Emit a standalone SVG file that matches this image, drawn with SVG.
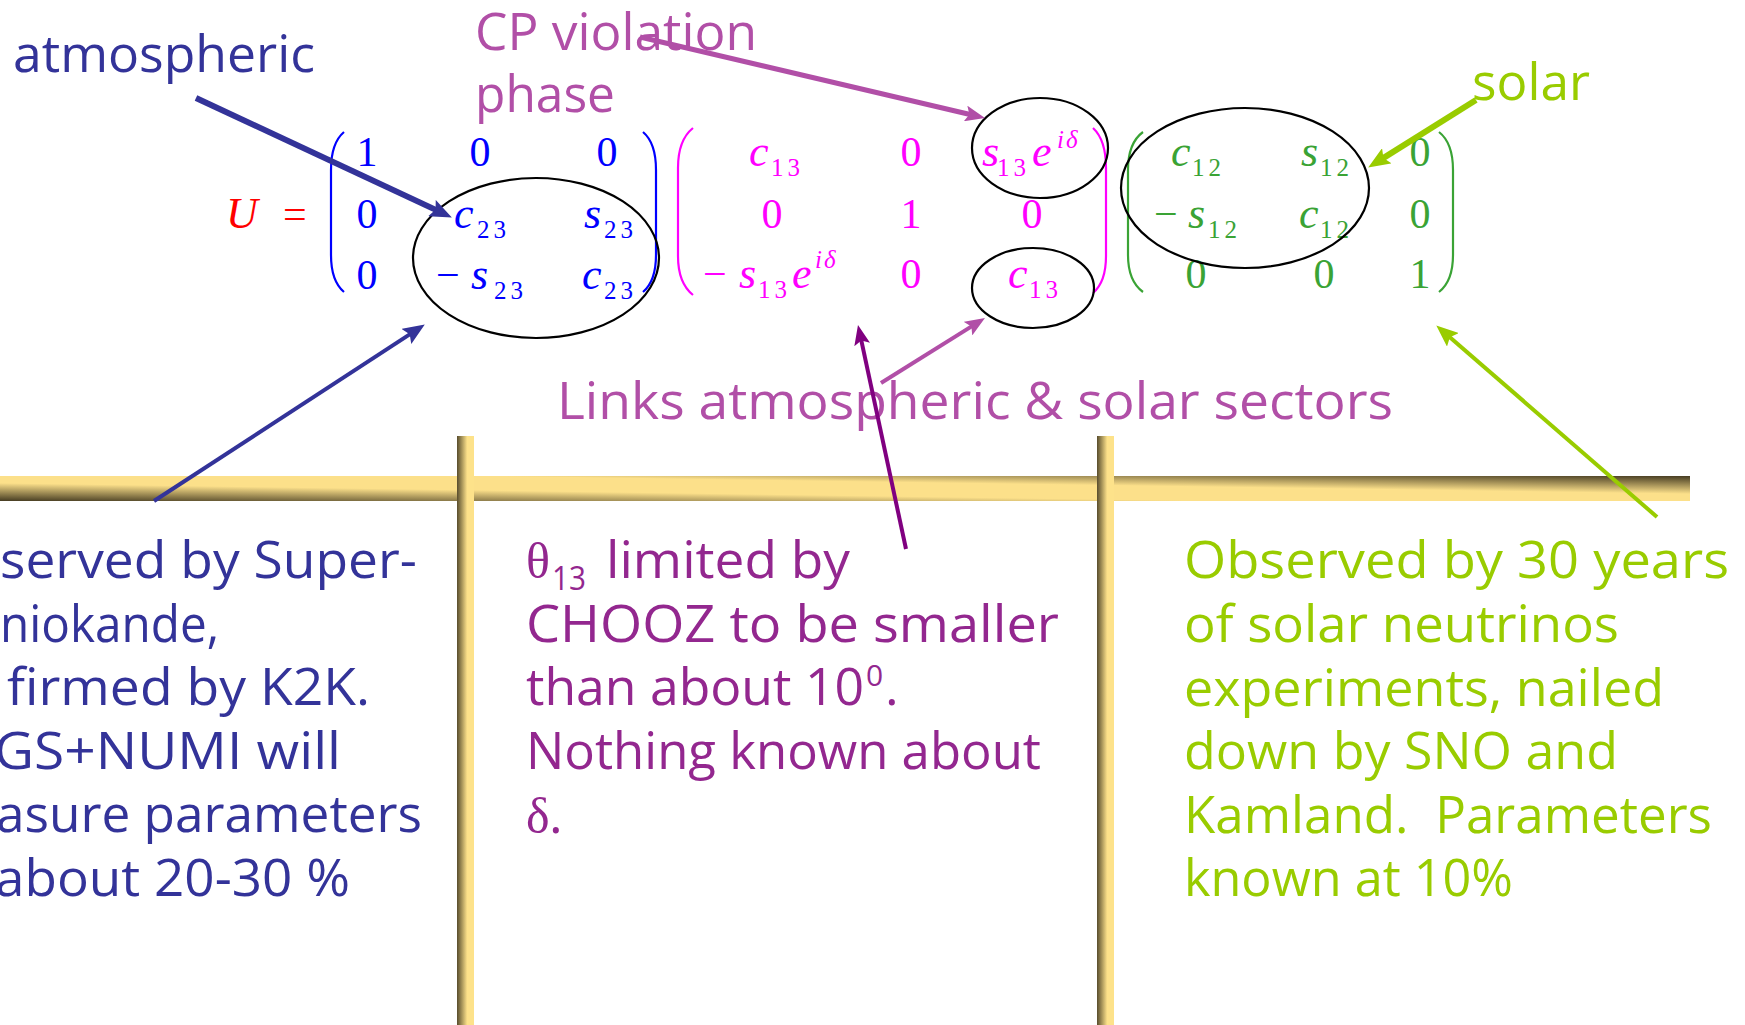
<svg xmlns="http://www.w3.org/2000/svg" width="1745" height="1025" viewBox="0 0 1745 1025">
<defs>
<style>
.sans{font-family:"Open Sans","Liberation Sans",sans-serif;font-size:52px}
.serif{font-family:"Liberation Serif","DejaVu Serif",serif}
.m{font-family:"Liberation Serif","DejaVu Serif",serif;font-size:42px}
.mi{font-family:"Liberation Serif","DejaVu Serif",serif;font-size:44px;font-style:italic}
.sub{font-family:"Liberation Serif","DejaVu Serif",serif;font-size:25px;letter-spacing:4px}
.sup{font-family:"Liberation Serif","DejaVu Serif",serif;font-size:25px;font-style:italic;letter-spacing:2px}
.mid{text-anchor:middle}
.paren{fill:none;stroke-width:2.2}
.ell{fill:none;stroke:#000;stroke-width:2.2}
.navy{fill:#333399}
.orchid{fill:#B14FA7}
.plum{fill:#93278F}
.lime{fill:#99CC00}
.blue{fill:#0000FF}
.mag{fill:#FF00FF}
.grn{fill:#3AA335}
.arrow{fill:none;stroke-linecap:butt}
</style>
<linearGradient id="gH" x1="0" y1="1" x2="1" y2="0">
<stop offset="0" stop-color="#463C22"/>
<stop offset="0.36" stop-color="#FCE08A"/>
<stop offset="0.64" stop-color="#FCE08A"/>
<stop offset="1" stop-color="#463C22"/>
</linearGradient>
<linearGradient id="gV" x1="0" y1="0" x2="1" y2="0">
<stop offset="0" stop-color="#584C2D"/>
<stop offset="0.2" stop-color="#8E7E4C"/>
<stop offset="0.6" stop-color="#FDE28A"/>
<stop offset="1" stop-color="#FDE28A"/>
</linearGradient>
<marker id="ahNavy" markerUnits="userSpaceOnUse" markerWidth="22" markerHeight="18" refX="9" refY="9" orient="auto"><path d="M0,0 L22,9 L0,18 L4,9 z" fill="#333399"/></marker>
<marker id="ahOrchid" markerUnits="userSpaceOnUse" markerWidth="20" markerHeight="16" refX="8" refY="8" orient="auto"><path d="M0,0 L20,8 L0,16 L4,8 z" fill="#B14FA7"/></marker>
<marker id="ahPurple" markerUnits="userSpaceOnUse" markerWidth="20" markerHeight="16" refX="8" refY="8" orient="auto"><path d="M0,0 L20,8 L0,16 L4,8 z" fill="#800080"/></marker>
<marker id="ahLime" markerUnits="userSpaceOnUse" markerWidth="22" markerHeight="18" refX="9" refY="9" orient="auto"><path d="M0,0 L22,9 L0,18 L4,9 z" fill="#99CC00"/></marker>
</defs>
<rect width="1745" height="1025" fill="#fff"/>

<g id="bars">
<rect x="0" y="476" width="1690" height="25" fill="url(#gH)"/>
<rect x="457" y="436" width="17" height="589" fill="url(#gV)"/>
<rect x="1097" y="436" width="17" height="589" fill="url(#gV)"/>
</g>

<g id="label-atmospheric"><text class="sans navy" x="13" y="72" textLength="302" lengthAdjust="spacingAndGlyphs">atmospheric</text></g>
<g id="label-cp"><text class="sans orchid" x="475" y="50" textLength="282" lengthAdjust="spacingAndGlyphs">CP violation</text><text class="sans orchid" x="475" y="112" textLength="140" lengthAdjust="spacingAndGlyphs">phase</text></g>
<g id="label-solar"><text class="sans lime" x="1472" y="100" textLength="118" lengthAdjust="spacingAndGlyphs">solar</text></g>
<g id="label-links"><text class="sans orchid" x="557" y="419" textLength="836" lengthAdjust="spacingAndGlyphs">Links atmospheric &amp; solar sectors</text></g>

<g id="matrix-U">
<text class="mi" x="226" y="228" fill="#FF0000">U</text>
<text class="m" x="283" y="228" fill="#FF0000">=</text>
</g>

<g id="matrix-23" class="blue">
<path class="paren" stroke="#0000FF" d="M344 132 Q331 143 331 170 L331 255 Q331 281 344 292"/>
<path class="paren" stroke="#0000FF" d="M643 132 Q656 143 656 170 L656 255 Q656 281 643 292"/>
<text class="m mid" x="367" y="166">1</text>
<text class="m mid" x="480" y="166">0</text>
<text class="m mid" x="607" y="166">0</text>
<text class="m mid" x="367" y="228">0</text>
<text class="mi" x="454" y="228">c</text><text class="sub" x="477" y="238">23</text>
<text class="mi" x="584" y="228">s</text><text class="sub" x="604" y="238">23</text>
<text class="m" x="436" y="289">−</text>
<text class="m mid" x="367" y="289">0</text>
<text class="mi" x="471" y="289">s</text><text class="sub" x="494" y="299">23</text>
<text class="mi" x="582" y="289">c</text><text class="sub" x="604" y="299">23</text>
</g>

<g id="matrix-13" class="mag">
<path class="paren" stroke="#FF00FF" d="M693 128 Q678 140 678 168 L678 256 Q678 283 693 295"/>
<path class="paren" stroke="#FF00FF" d="M1093 128 Q1106 140 1106 168 L1106 256 Q1106 282 1093 293"/>
<text class="mi" x="749" y="166">c</text><text class="sub" x="771" y="176">13</text>
<text class="m mid" x="911" y="166">0</text>
<text class="mi" x="982" y="166">s</text><text class="sub" x="997" y="176">13</text>
<text class="mi" x="1032" y="166">e</text><text class="sup" x="1057" y="148">iδ</text>
<text class="m mid" x="772" y="228">0</text>
<text class="m mid" x="911" y="228">1</text>
<text class="m mid" x="1032" y="228">0</text>
<text class="m" x="703" y="288">−</text>
<text class="mi" x="739" y="288">s</text><text class="sub" x="758" y="298">13</text>
<text class="mi" x="792" y="288">e</text><text class="sup" x="815" y="268">iδ</text>
<text class="m mid" x="911" y="288">0</text>
<text class="mi" x="1008" y="288">c</text><text class="sub" x="1029" y="298">13</text>
</g>

<g id="matrix-12" class="grn">
<path class="paren" stroke="#3AA335" d="M1143 132 Q1128 143 1128 170 L1128 255 Q1128 281 1143 292"/>
<path class="paren" stroke="#3AA335" d="M1439 132 Q1453 143 1453 170 L1453 255 Q1453 281 1439 292"/>
<text class="mi" x="1171" y="166">c</text><text class="sub" x="1192" y="176">12</text>
<text class="mi" x="1301" y="166">s</text><text class="sub" x="1320" y="176">12</text>
<text class="m mid" x="1420" y="166">0</text>
<text class="m" x="1154" y="228">−</text>
<text class="mi" x="1188" y="228">s</text><text class="sub" x="1208" y="238">12</text>
<text class="mi" x="1299" y="228">c</text><text class="sub" x="1320" y="238">12</text>
<text class="m mid" x="1420" y="228">0</text>
<text class="m mid" x="1196" y="288">0</text>
<text class="m mid" x="1324" y="288">0</text>
<text class="m mid" x="1420" y="288">1</text>
</g>

<g id="ellipse-23"><ellipse class="ell" cx="536" cy="258" rx="123" ry="80"/></g>
<g id="ellipse-s13"><ellipse class="ell" cx="1040" cy="148" rx="68" ry="50"/></g>
<g id="ellipse-c13"><ellipse class="ell" cx="1033" cy="288" rx="61" ry="40"/></g>
<g id="ellipse-12"><ellipse class="ell" cx="1245" cy="188" rx="124" ry="80"/></g>

<g id="text-atmospheric" class="sans navy">
<text x="0" y="578" textLength="417" lengthAdjust="spacingAndGlyphs">served by Super-</text>
<text x="0" y="642" textLength="219" lengthAdjust="spacingAndGlyphs">niokande,</text>
<text x="7" y="705" textLength="363" lengthAdjust="spacingAndGlyphs">firmed by K2K.</text>
<text x="-6" y="769" textLength="347" lengthAdjust="spacingAndGlyphs">GS+NUMI will</text>
<text x="-4" y="832" textLength="426" lengthAdjust="spacingAndGlyphs">asure parameters</text>
<text x="-5" y="896" textLength="355" lengthAdjust="spacingAndGlyphs">about 20-30 %</text>
</g>

<g id="text-theta13" class="plum">
<text class="serif" x="526" y="578" font-size="50">θ</text>
<text class="sans" x="552" y="590" style="font-size:32px" textLength="34" lengthAdjust="spacingAndGlyphs">13</text>
<text class="sans" x="606" y="578" textLength="244" lengthAdjust="spacingAndGlyphs">limited by</text>
<text class="sans" x="526" y="642" textLength="533" lengthAdjust="spacingAndGlyphs">CHOOZ to be smaller</text>
<text class="sans" x="526" y="705" textLength="338" lengthAdjust="spacingAndGlyphs">than about 10</text>
<text class="sans" x="866" y="686" style="font-size:30px">0</text>
<text class="sans" x="885" y="705">.</text>
<text class="sans" x="526" y="769" textLength="515" lengthAdjust="spacingAndGlyphs">Nothing known about</text>
<text class="serif" x="526" y="833" font-size="50">δ</text>
<text class="sans" x="549" y="833">.</text>
</g>

<g id="text-solar" class="sans lime">
<text x="1184" y="578" textLength="545" lengthAdjust="spacingAndGlyphs">Observed by 30 years</text>
<text x="1184" y="642" textLength="435" lengthAdjust="spacingAndGlyphs">of solar neutrinos</text>
<text x="1184" y="706" textLength="480" lengthAdjust="spacingAndGlyphs">experiments, nailed</text>
<text x="1184" y="769" textLength="434" lengthAdjust="spacingAndGlyphs">down by SNO and</text>
<text x="1184" y="833" textLength="528" lengthAdjust="spacingAndGlyphs">Kamland.&#160; Parameters</text>
<text x="1184" y="896" textLength="329" lengthAdjust="spacingAndGlyphs">known at 10%</text>
</g>

<g id="connectors" class="arrow">
<path d="M196 98 L440.1 211.9" stroke="#333399" stroke-width="6" marker-end="url(#ahNavy)"/>
<path d="M154 501 L413.9 331.6" stroke="#333399" stroke-width="4" marker-end="url(#ahNavy)"/>
<path d="M640 37 L973.3 115.3" stroke="#B14FA7" stroke-width="5" marker-end="url(#ahOrchid)"/>
<path d="M881 383 L974.8 324.4" stroke="#B14FA7" stroke-width="4" marker-end="url(#ahOrchid)"/>
<path d="M906 549 L860.5 336.7" stroke="#800080" stroke-width="4" marker-end="url(#ahPurple)"/>
<path d="M1476 100 L1379.2 160.6" stroke="#99CC00" stroke-width="6" marker-end="url(#ahLime)"/>
<path d="M1657 517 L1446.1 333.9" stroke="#99CC00" stroke-width="4" marker-end="url(#ahLime)"/>
</g>
</svg>
